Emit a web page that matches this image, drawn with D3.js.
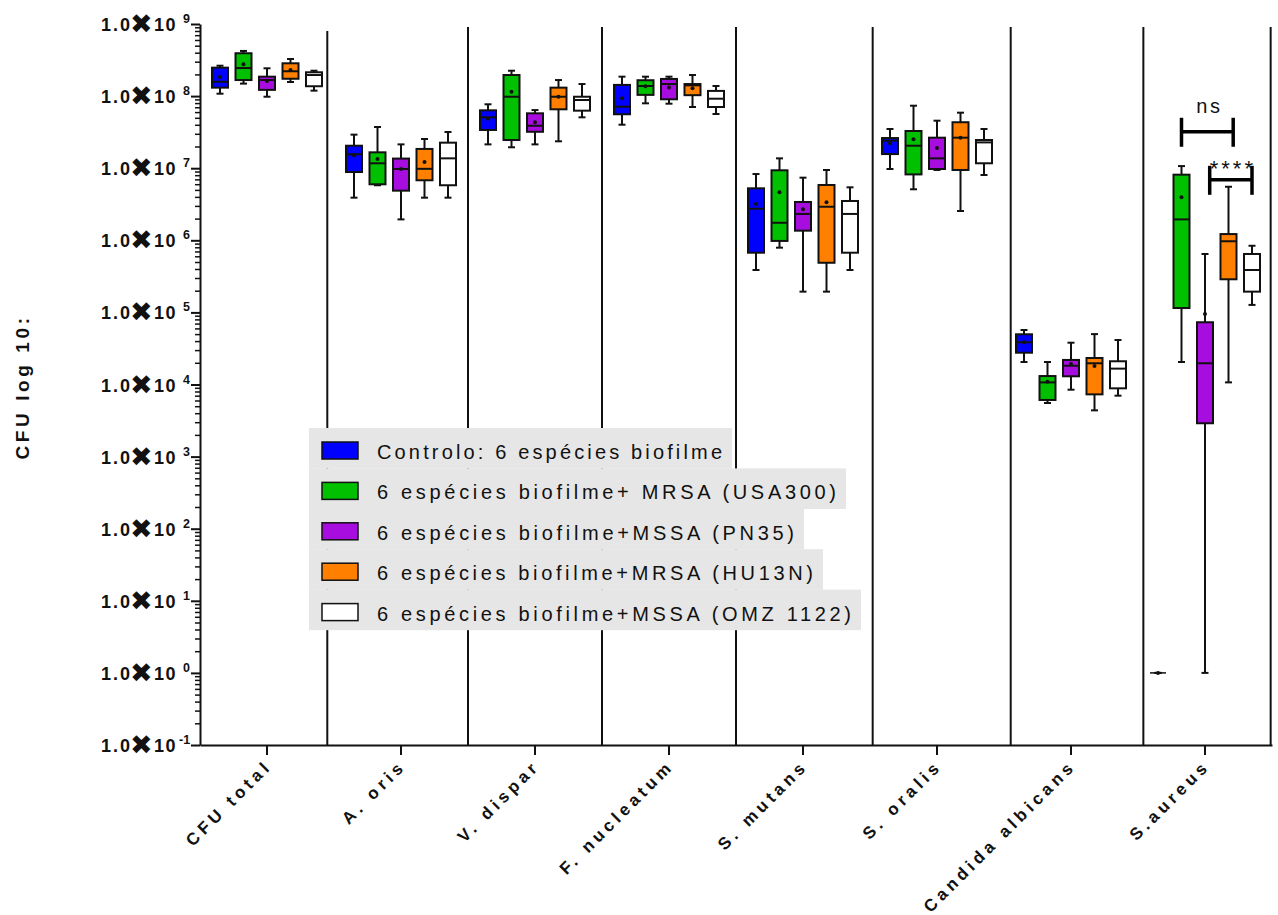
<!DOCTYPE html>
<html>
<head>
<meta charset="utf-8">
<script src="https://cdn.jsdelivr.net/npm/d3@7"></script>
<style>
  html, body { margin: 0; padding: 0; background: #fff; }
  svg { display: block; }
</style>
</head>
<body>
<svg id="chart" width="1278" height="915"></svg>
<script>
// ---------- DATA ----------
const categories = ["CFU total", "A. oris", "V. dispar", "F. nucleatum", "S. mutans", "S. oralis", "Candida albicans", "S.aureus"];
const groupNames = [
  "Controlo: 6 espécies biofilme",
  "6 espécies biofilme+ MRSA (USA300)",
  "6 espécies biofilme+MSSA (PN35)",
  "6 espécies biofilme+MRSA (HU13N)",
  "6 espécies biofilme+MSSA (OMZ 1122)"
];
const groupColors = ["#0000ff", "#00c000", "#a80ddf", "#ff8000", "#ffffff"];

// each row: [min, q1, median, q3, max, mean] per category
const controlo = [
  [1.08e8, 1.31e8, 1.58e8, 2.48e8, 2.64e8, 1.84e8],
  [3.9e6, 8.85e6, 1.56e7, 2.05e7, 2.92e7, 1.51e7],
  [2.14e7, 3.39e7, 5.08e7, 6.35e7, 7.7e7, 4.86e7],
  [4.01e7, 5.6e7, 7.13e7, 1.43e8, 1.86e8, 9.3e7],
  [3.87e5, 6.73e5, 2.74e6, 5.26e6, 8.3e6, 3.18e6],
  [9.75e6, 1.57e7, 2.41e7, 2.62e7, 3.5e7, 2.21e7],
  [2.05e4, 2.76e4, 3.85e4, 4.97e4, 5.7e4, 3.85e4],
  [1, 1, 1, 1, 1, 1]
];
const mrsaUSA300 = [
  [1.49e8, 1.67e8, 2.45e8, 3.93e8, 4.23e8, 2.76e8],
  [5.8e6, 5.98e6, 1.17e7, 1.66e7, 3.73e7, 1.34e7],
  [1.95e7, 2.46e7, 9.8e7, 1.96e8, 2.25e8, 1.15e8],
  [7.94e7, 1.04e8, 1.38e8, 1.66e8, 1.86e8, 1.37e8],
  [7.9e5, 9.8e5, 1.75e6, 9.35e6, 1.37e7, 4.63e6],
  [5.1e6, 8.2e6, 2.05e7, 3.28e7, 7.36e7, 2.52e7],
  [5.54e3, 6.1e3, 1.07e4, 1.31e4, 2.05e4, 1.09e4],
  [2.05e4, 1.15e5, 1.95e6, 8.13e6, 1.07e7, 3.95e6]
];
const mssaPN35 = [
  [9.8e7, 1.22e8, 1.67e8, 1.86e8, 2.43e8, 1.62e8],
  [1.95e6, 4.88e6, 9.75e6, 1.36e7, 2.14e7, 9.75e6],
  [2.14e7, 3.2e7, 3.88e7, 5.77e7, 6.4e7, 4.33e7],
  [7.85e7, 9.03e7, 1.47e8, 1.73e8, 1.86e8, 1.32e8],
  [1.94e5, 1.36e6, 2.32e6, 3.4e6, 7.39e6, 2.69e6],
  [9.45e6, 9.75e6, 1.37e7, 2.65e7, 4.56e7, 1.9e7],
  [8.47e3, 1.3e4, 1.82e4, 2.19e4, 3.8e4, 1.92e4],
  [1, 2.9e3, 1.97e4, 7.3e4, 6.46e5, 9.5e4]
];
const mrsaHU13N = [
  [1.57e8, 1.74e8, 2.21e8, 2.85e8, 3.27e8, 2.3e8],
  [3.9e6, 6.8e6, 9.8e6, 1.85e7, 2.54e7, 1.22e7],
  [2.36e7, 6.56e7, 9.8e7, 1.31e8, 1.67e8, 9.8e7],
  [7.06e7, 1.03e8, 1.41e8, 1.47e8, 1.96e8, 1.28e8],
  [1.94e5, 4.88e5, 2.92e6, 5.85e6, 9.44e6, 3.37e6],
  [2.55e6, 9.45e6, 2.65e7, 4.34e7, 5.89e7, 2.65e7],
  [4.38e3, 7.3e3, 1.97e4, 2.33e4, 5.0e4, 1.81e4],
  [1.07e4, 2.88e5, 9.7e5, 1.22e6, 5.53e6, null]
];
const mssaOMZ1122 = [
  [1.19e8, 1.37e8, 1.96e8, 2.14e8, 2.25e8, null],
  [3.9e6, 5.8e6, 1.37e7, 2.26e7, 3.18e7, null],
  [5.08e7, 6.28e7, 8.83e7, 9.8e7, 1.47e8, null],
  [5.65e7, 7.06e7, 9.2e7, 1.18e8, 1.38e8, null],
  [3.87e5, 6.73e5, 2.32e6, 3.51e6, 5.43e6, null],
  [8.05e6, 1.17e7, 2.28e7, 2.46e7, 3.5e7, null],
  [7.0e3, 8.85e3, 1.66e4, 2.1e4, 4.14e4, null],
  [1.27e5, 1.94e5, 3.87e5, 6.46e5, 8.4e5, null]
];
const groupData = [controlo, mrsaUSA300, mssaPN35, mrsaHU13N, mssaOMZ1122];

const yTickExponents = [-1, 0, 1, 2, 3, 4, 5, 6, 7, 8, 9];
const separatorPositions = [0.45, 1.5, 2.5, 3.5, 4.52, 5.55, 6.54, 7.49]; // category units
const sigLabels = ["ns", "****"];
const sigFromGroup = [1, 2.2];
const sigToGroup = [3.2, 4];
const sigLevel = [3.2e7, 6.9e6];

// ---------- LAYOUT ----------
(function () {
const svg = d3.select("#chart");
const FONT = "'Liberation Sans', Arial, Helvetica, sans-serif";
const pL = 200, pR = 1272, pT = 24, pB = 745;

const y = d3.scaleLog().domain([0.1, 1e9]).range([pB, pT]);
const x = d3.scaleBand().domain(categories).range([pL, pR]);
const catLin = d3.scaleLinear().domain([-0.5, categories.length - 0.5]).range([pL, pR]);
const gx = d3.scaleLinear().domain([0, 4]).range([-47, 47]);
const cx = (ci, g) => x(categories[ci]) + x.bandwidth() / 2 + gx(g);
const boxW = 16, capW = 7;

// separators
svg.append("g").selectAll("line").data(separatorPositions).join("line")
  .attr("x1", d => catLin(d)).attr("x2", d => catLin(d))
  .attr("y1", (d, i) => i === 0 ? 31 : 27).attr("y2", pB)
  .attr("stroke", "#111").attr("stroke-width", 2);

// boxes
const boxes = svg.append("g");
groupData.forEach((rows, g) => {
  rows.forEach((s, ci) => {
    const [mn, q1, md, q3, mx, mean] = s;
    const xc = cx(ci, g);
    const gg = boxes.append("g");
    gg.append("line").attr("x1", xc).attr("x2", xc).attr("y1", y(mx)).attr("y2", y(q3))
      .attr("stroke", "#111").attr("stroke-width", 2);
    gg.append("line").attr("x1", xc).attr("x2", xc).attr("y1", y(q1)).attr("y2", y(mn))
      .attr("stroke", "#111").attr("stroke-width", 2);
    gg.append("line").attr("x1", xc - capW / 2).attr("x2", xc + capW / 2).attr("y1", y(mx)).attr("y2", y(mx))
      .attr("stroke", "#111").attr("stroke-width", 2);
    gg.append("line").attr("x1", xc - capW / 2).attr("x2", xc + capW / 2).attr("y1", y(mn)).attr("y2", y(mn))
      .attr("stroke", "#111").attr("stroke-width", 2);
    const h = y(q1) - y(q3);
    if (h > 0.5) {
      gg.append("rect").attr("x", xc - boxW / 2).attr("y", y(q3)).attr("width", boxW).attr("height", h)
        .attr("fill", groupColors[g]).attr("stroke", "#111").attr("stroke-width", 2);
      gg.append("line").attr("x1", xc - boxW / 2).attr("x2", xc + boxW / 2).attr("y1", y(md)).attr("y2", y(md))
        .attr("stroke", "#111").attr("stroke-width", 2);
    } else {
      gg.append("line").attr("x1", xc - boxW / 2).attr("x2", xc + boxW / 2).attr("y1", y(md)).attr("y2", y(md))
        .attr("stroke", "#111").attr("stroke-width", 1.5);
    }
    if (mean != null) {
      gg.append("circle").attr("cx", xc).attr("cy", y(mean)).attr("r", 2).attr("fill", "#111");
    }
  });
});

// y axis
const majors = yTickExponents.map(e => Math.pow(10, e));
const minors = [];
for (let e = -1; e < 9; e++) for (let m = 2; m <= 9; m++) minors.push(m * Math.pow(10, e));
const yAxisG = svg.append("g").attr("transform", `translate(${pL},0)`);
yAxisG.append("g").call(d3.axisLeft(y).tickValues(minors).tickSize(5).tickFormat(""))
  .call(g => g.select(".domain").remove())
  .selectAll("line").attr("stroke", "#111").attr("stroke-width", 1.5);
yAxisG.append("g").call(d3.axisLeft(y).tickValues(majors).tickSize(9).tickSizeOuter(0).tickFormat(""))
  .call(g => g.select(".domain").attr("stroke", "#111").attr("stroke-width", 2))
  .selectAll("line").attr("stroke", "#111").attr("stroke-width", 2);

// y tick labels "1.0✖10^n" (one text element per label)
const lab = svg.append("g");
yTickExponents.forEach(e => {
  const yy = y(Math.pow(10, e));
  const t = lab.append("text").attr("font-family", FONT)
    .attr("font-weight", "bold").attr("font-size", 18).attr("fill", "#111");
  t.append("tspan").attr("x", 101).attr("y", yy + 7).attr("letter-spacing", 2).text("1.0");
  t.append("tspan").attr("x", 130).attr("y", yy + 9)
    .attr("font-family", "'DejaVu Sans', sans-serif").attr("font-size", 27).text("\u2716");
  t.append("tspan").attr("x", 154).attr("y", yy + 7).attr("letter-spacing", 1.5).text("10");
  t.append("tspan").attr("x", e < 0 ? 179 : 183).attr("y", yy - 1).attr("font-size", 12.5).text(String(e));
});

// y axis title
svg.append("text").attr("transform", "translate(29,387) rotate(-90)")
  .attr("text-anchor", "middle").attr("font-family", FONT).attr("font-weight", "bold")
  .attr("font-size", 19).attr("letter-spacing", 3.6).attr("fill", "#111")
  .text("CFU log 10:");

// x axis
const xAxisG = svg.append("g").attr("transform", `translate(0,${pB})`)
  .call(d3.axisBottom(x).tickSize(10).tickSizeOuter(0).tickFormat(""));
xAxisG.select(".domain").attr("stroke", "#111").attr("stroke-width", 2);
xAxisG.selectAll("line").attr("stroke", "#111").attr("stroke-width", 2);

// x labels
svg.append("g").selectAll("text").data(categories).join("text")
  .attr("transform", d => `translate(${x(d) + x.bandwidth() / 2 + 6},${pB + 22}) rotate(-45)`)
  .attr("text-anchor", "end").attr("font-family", FONT).attr("font-weight", "bold")
  .attr("font-size", 17).attr("letter-spacing", 4.2).attr("fill", "#111")
  .text(d => d);

// significance brackets (S.aureus)
const ci = categories.length - 1;
sigLabels.forEach((label, i) => {
  const x1 = cx(ci, sigFromGroup[i]), x2 = cx(ci, sigToGroup[i]);
  const yy = y(sigLevel[i]);
  const g = svg.append("g").attr("stroke", "#000").attr("stroke-width", 3.5);
  g.append("line").attr("x1", x1).attr("x2", x2).attr("y1", yy).attr("y2", yy);
  g.append("line").attr("x1", x1).attr("x2", x1).attr("y1", yy - 14).attr("y2", yy + 15);
  g.append("line").attr("x1", x2).attr("x2", x2).attr("y1", yy - 14).attr("y2", yy + 15);
  svg.append("text").attr("x", (x1 + x2) / 2 + 2).attr("y", label === "ns" ? yy - 19 : yy - 4)
    .attr("text-anchor", "middle").attr("font-family", FONT).attr("font-size", label === "ns" ? 20 : 22)
    .attr("letter-spacing", label === "ns" ? 2.5 : 3).attr("fill", "#111").text(label);
});

// legend
const legendTextLen = [345, 459, 417, 436, 474];
const leg = svg.append("g");
groupNames.forEach((name, i) => {
  const rowTop = 428 + i * 40.4;
  leg.append("rect").attr("x", 309).attr("y", rowTop).attr("width", 377 + legendTextLen[i] + 10 - 309)
    .attr("height", 40.6).attr("fill", "#e6e6e6");
});
groupNames.forEach((name, i) => {
  const rowTop = 428 + i * 40.4;
  leg.append("rect").attr("x", 322).attr("y", rowTop + 14).attr("width", 36).attr("height", 17)
    .attr("fill", groupColors[i]).attr("stroke", "#111").attr("stroke-width", 1.5);
  leg.append("text").attr("x", 377).attr("y", rowTop + 31)
    .attr("font-family", FONT).attr("font-size", 20).attr("fill", "#111")
    .attr("textLength", legendTextLen[i]).attr("lengthAdjust", "spacing")
    .text(name);
});
})();
</script>
</body>
</html>
